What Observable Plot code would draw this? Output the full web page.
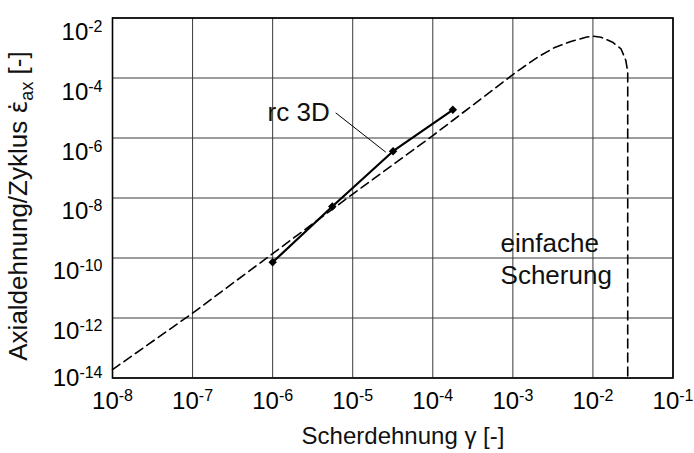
<!DOCTYPE html>
<html>
<head>
<meta charset="utf-8">
<script src="https://cdn.jsdelivr.net/npm/d3@7"></script>
<script src="https://cdn.jsdelivr.net/npm/@observablehq/plot@0.6"></script>
<style>
  html, body { margin: 0; padding: 0; background: #fff; }
  svg { display: block; }
</style>
</head>
<body>
<div id="chart"></div>
<script>
// ---- data ----
const xTicks = [1e-8, 1e-7, 1e-6, 1e-5, 1e-4, 1e-3, 1e-2, 1e-1];
const yTicks = [1e-14, 1e-12, 1e-10, 1e-8, 1e-6, 1e-4, 1e-2];

// "einfache Scherung" (simple shear) curve
const shearGamma  = [1e-8, 1e-7, 1e-6, 1e-5, 1e-4, 1e-3, 1.26e-3, 2.04e-3, 3.28e-3, 5.31e-3, 8.18e-3, 1.0e-2, 1.26e-2, 1.76e-2, 2.24e-2, 2.58e-2, 2.72e-2, 2.72e-2];
const shearStrain = [1.9e-14, 1.45e-12, 1.4e-10, 1.35e-8, 1.2e-6, 1.3e-4, 2.03e-4, 4.93e-4, 1.02e-3, 1.65e-3, 2.29e-3, 2.47e-3, 2.29e-3, 1.56e-3, 9.4e-4, 3.83e-4, 1.56e-4, 1e-14];

// "rc 3D" series
const rcGamma  = [1e-6, 5.56e-6, 3.19e-5, 1.78e-4];
const rcStrain = [7.2e-11, 5.2e-9, 3.63e-7, 8.7e-6];

// annotations
const labelText  = ["rc 3D", "einfache\nScherung"];
const labelGamma = [5.16e-6, 7.02e-4];
const labelY     = [3.83e-6, 1.31e-11];
const leaderGamma = [6.13e-6, 2.59e-5];
const leaderY     = [6.9e-6, 3.36e-7];

const xTitle = "Scherdehnung γ [-]";
const yTitleMain = "Axialdehnung/Zyklus ";
const yTitleSym = "ε\u0307";
const yTitleSub = "ax";
const yTitleEnd = " [-]";

// ---- tables ----
const shear = shearGamma.map((g, i) => ({g, s: shearStrain[i]}));
const rc = rcGamma.map((g, i) => ({g, s: rcStrain[i]}));
const rcLabel = [{t: labelText[0], g: labelGamma[0], s: labelY[0]}];
const shearLabel = [{t: labelText[1], g: labelGamma[1], s: labelY[1]}];
const leader = [{x1: leaderGamma[0], y1: leaderY[0], x2: leaderGamma[1], y2: leaderY[1]}];

const FONT = "'Liberation Sans', Arial, Helvetica, sans-serif";
const expFmt = d => String(Math.round(Math.log10(d)));

const chart = Plot.plot({
  width: 694,
  height: 453,
  marginLeft: 112,
  marginRight: 21.5,
  marginTop: 17.5,
  marginBottom: 75.5,
  x: {type: "log", domain: [1e-8, 1e-1]},
  y: {type: "log", domain: [1e-14, 1e-2]},
  style: {fontFamily: FONT, fontSize: "24px", background: "#fff", color: "#000"},
  marks: [
    Plot.gridX(xTicks, {stroke: "#3a3a3a", strokeOpacity: 1, strokeWidth: 1}),
    Plot.gridY(yTicks, {stroke: "#3a3a3a", strokeOpacity: 1, strokeWidth: 1}),
    Plot.axisX(xTicks, {tickSize: 0, tickPadding: 14, tickFormat: expFmt, label: null, fontSize: 24}),
    Plot.axisY(yTicks, {tickSize: 0, tickPadding: 10, tickFormat: expFmt, label: null, fontSize: 24}),
    Plot.text(shearLabel, {x: "g", y: "s", text: "t", textAnchor: "start", lineAnchor: "bottom", lineHeight: 1.24, fontSize: 26, fill: "#111"}),
    Plot.line(shear, {x: "g", y: "s", stroke: "#000", strokeWidth: 1.6, strokeDasharray: "9,5"}),
    Plot.line(rc, {x: "g", y: "s", stroke: "#000", strokeWidth: 2.2}),
    Plot.dot(rc, {x: "g", y: "s", symbol: "diamond2", r: 3.8, fill: "#000", stroke: "none"}),
    Plot.link(leader, {x1: "x1", y1: "y1", x2: "x2", y2: "y2", stroke: "#000", strokeWidth: 1}),
    Plot.text(rcLabel, {x: "g", y: "s", text: "t", textAnchor: "end", lineAnchor: "bottom", fontSize: 26, fill: "#111"}),
    Plot.frame({stroke: "#000", strokeWidth: 1.6})
  ]
});

document.getElementById("chart").appendChild(chart);

const svg = d3.select(chart);

// superscript exponents on the tick labels ("10" + exponent)
function powerLabels(sel) {
  sel.each(function () {
    const e = this.textContent;
    this.textContent = "";
    const t = d3.select(this);
    t.append("tspan").text("10");
    t.append("tspan").attr("dy", -8).attr("font-size", 16).text(e);
  });
}
powerLabels(svg.selectAll('g[aria-label="x-axis tick label"] text'));
powerLabels(svg.selectAll('g[aria-label="y-axis tick label"] text'));
svg.selectAll('g[aria-label="y-axis tick label"] text').each(function (d) {
  // labels sit a little below their grid line, as in the reference
  const e = Math.round(Math.log10(d));
  const off = 4.7 + (12.5 - 4.7) * (e + 14) / 12;
  d3.select(this).attr("dy", off);
});

// white box behind the "einfache Scherung" annotation
svg.selectAll('g[aria-label="text"] text').each(function () {
  if (!this.textContent.includes("einfache")) return;
  const bb = this.getBBox();
  d3.select(this.parentNode).insert("rect", () => this)
    .attr("x", bb.x - 11).attr("y", bb.y - 7)
    .attr("width", bb.width + 19).attr("height", bb.height + 13)
    .attr("fill", "#fff");
});

// axis titles
svg.append("text")
  .attr("x", 403).attr("y", 444)
  .attr("text-anchor", "middle")
  .attr("font-family", FONT).attr("font-size", 24).attr("fill", "#111")
  .text(xTitle);

const yt = svg.append("text")
  .attr("transform", "translate(27,206) rotate(-90)")
  .attr("text-anchor", "middle")
  .attr("font-family", FONT).attr("font-size", 26).attr("fill", "#111");
yt.append("tspan").text(yTitleMain);
yt.append("tspan").attr("font-family", "'DejaVu Sans', sans-serif").attr("font-size", 24).text(yTitleSym);
yt.append("tspan").attr("dy", 6).attr("font-size", 18).text(yTitleSub);
yt.append("tspan").attr("dy", -6).text(yTitleEnd);
</script>
</body>
</html>
